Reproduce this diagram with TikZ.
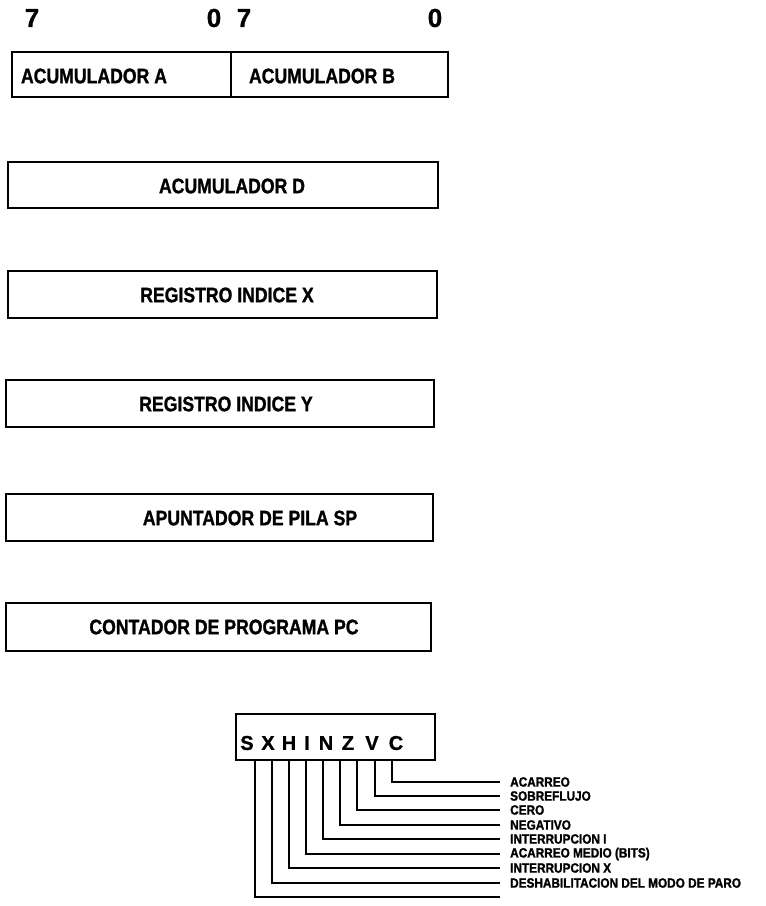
\documentclass[tikz,border=0pt]{standalone}
\usepackage{fontspec}
\setmainfont{Liberation Sans}
\newfontfamily\regfont{Liberation Sans}[FakeStretch=0.84,FakeBold=1.2]
\newfontfamily\labfont{Liberation Sans}[FakeStretch=0.88,FakeBold=1.5]
\newfontfamily\digfont{Liberation Sans}[FakeBold=1]
\begin{document}
\begin{tikzpicture}[x=1pt,y=-1pt,
  regbox/.style={draw, line width=1.6pt},
  regtext/.style={inner sep=0pt, font=\regfont\bfseries\fontsize{21}{21}\selectfont},
  bitnum/.style={inner sep=0pt, font=\digfont\bfseries\fontsize{26}{26}\selectfont},
  flagtext/.style={inner sep=0pt, font=\digfont\bfseries\fontsize{20}{20}\selectfont},
  labtext/.style={inner sep=0pt, anchor=west, font=\labfont\bfseries\fontsize{13.4}{13.4}\selectfont},
  wire/.style={draw, line width=1.5pt}]
\useasboundingbox (0,0) rectangle (766,906);
% bit numbers
\node[bitnum] (n7a) at (32,18) {7};
\node[bitnum] (n0a) at (214,18) {0};
\node[bitnum] (n7b) at (244,18) {7};
\node[bitnum] (n0b) at (435,18) {0};
% A/B
\draw[regbox] (12,52) rectangle (448,97);
\draw[regbox] (231,52) -- (231,97);
\node[regtext] (accA) at (94,76) {ACUMULADOR A};
\node[regtext] (accB) at (322,76) {ACUMULADOR B};
% D
\draw[regbox] (8,162) rectangle (438,208);
\node[regtext] (accD) at (232,186) {ACUMULADOR D};
% X
\draw[regbox] (8,271) rectangle (437,318);
\node[regtext] (regX) at (227,295) {REGISTRO INDICE X};
% Y
\draw[regbox] (6,380) rectangle (434,427);
\node[regtext] (regY) at (226,404) {REGISTRO INDICE Y};
% SP
\draw[regbox] (6,494) rectangle (433,541);
\node[regtext] (regSP) at (250,518) {APUNTADOR DE PILA SP};
% PC
\draw[regbox] (6,603) rectangle (431,651);
\node[regtext] (regPC) at (224,627) {CONTADOR DE PROGRAMA PC};
% CCR
\draw[regbox] (236,714) rectangle (435,760);
\foreach \l/\xx in {S/247,X/268,H/289,I/307,N/326,Z/348,V/372,C/396}{
  \node[flagtext] (f\l) at (\xx,743) {\l};
}
% wires
\foreach \i/\xx/\yy/\t in {
  1/392/782/ACARREO,
  2/375/796/SOBREFLUJO,
  3/357/810/CERO,
  4/340/825/NEGATIVO,
  5/323/839/INTERRUPCION I,
  6/306/854/ACARREO MEDIO (BITS),
  7/289/868/INTERRUPCION X,
  8/272/883/DESHABILITACION DEL MODO DE PARO}{
  \coordinate (t\i) at (\xx,761);
  \node[labtext] (L\i) at (510,\yy) {\t};
  \draw[wire] (t\i) |- ([xshift=-10pt]L\i.west);
}
\coordinate (t9) at (255,761);
\coordinate (e9) at (500,897);
\draw[wire] (t9) |- (e9);
\end{tikzpicture}
\end{document}
